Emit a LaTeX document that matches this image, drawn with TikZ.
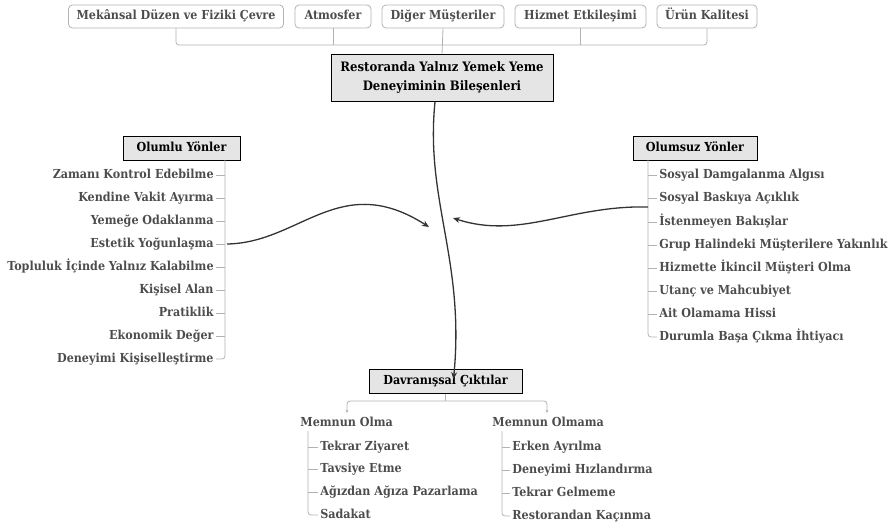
\documentclass[tikz,border=0pt]{standalone}
\usepackage{fontspec}
\setmainfont{DejaVu Serif Condensed}[BoldFont = {DejaVu Serif Condensed Bold}]
\usetikzlibrary{arrows.meta}

\begin{document}
\begin{tikzpicture}[x = 1pt, y = -1pt, line width = 0.8pt,
    font = \bfseries\fontsize{12.4}{15}\selectfont,
    facet/.style = {draw = black!30, rounded corners = 4pt, text = black!70, minimum height = 23pt, inner sep = 2pt, text height = 9pt, text depth = 2.5pt},
    head/.style = {draw = black, fill = black!10, text = black, minimum height = 24pt, inner sep = 2pt, text height = 9pt, text depth = 2.5pt},
    item/.style = {text = black!70, inner sep = 2pt, text height = 9pt, text depth = 2.5pt},
    branch/.style = {draw = black!30, rounded corners = 3pt},
    flow/.style = {draw = black!80, line width = 1.3pt, -{Stealth[length = 7pt, width = 6pt]}}]
    \useasboundingbox (0, 0) rectangle (891, 530);

    % components on top
    \node [facet, minimum width = 215pt] (space) at (176, 16.5){Mekânsal Düzen ve Fiziki Çevre};
    \node [facet, minimum width = 76pt] (atmo) at (333, 16.5){Atmosfer};
    \node [facet, minimum width = 122pt] (others) at (443, 16.5){Diğer Müşteriler};
    \node [facet, minimum width = 131pt] (service) at (580.5, 16.5){Hizmet Etkileşimi};
    \node [facet, minimum width = 100pt] (product) at (707, 16.5){Ürün Kalitesi};
    \node [head, align = center, minimum width = 222pt, minimum height = 47pt, text height = {}, text depth = {}, font = \bfseries\fontsize{13}{19}\selectfont] (main) at (442, 78){Restoranda Yalnız Yemek Yeme\\Deneyiminin Bileşenleri};
    \coordinate (bus) at (443, 45);
    \draw [branch] (space.south) |- (bus) -| (product.south);
    \draw [branch] (atmo.south) -- (atmo.south |- bus);
    \draw [branch] (service.south) -- (service.south |- bus);
    \draw [branch] (others.south) -- (main.north);

    % positive side
    \node [head, minimum width = 117pt] (pos) at (181.5, 148){Olumlu Yönler};
    \coordinate (lsp) at (225, 160);
    \node [item, anchor = east] (p1) at (216, 175){Zamanı Kontrol Edebilme};
    \node [item, anchor = east] (p2) at (216, 198){Kendine Vakit Ayırma};
    \node [item, anchor = east] (p3) at (216, 221){Yemeğe Odaklanma};
    \node [item, anchor = east] (p4) at (216, 244){Estetik Yoğunlaşma};
    \node [item, anchor = east] (p5) at (216, 267){Topluluk İçinde Yalnız Kalabilme};
    \node [item, anchor = east] (p6) at (216, 290){Kişisel Alan};
    \node [item, anchor = east] (p7) at (216, 313){Pratiklik};
    \node [item, anchor = east] (p8) at (216, 336){Ekonomik Değer};
    \node [item, anchor = east] (p9) at (216, 359){Deneyimi Kişiselleştirme};
    \draw [branch] (lsp) |- (p9.east);
    \draw [branch] (p1.east) -- (p1.east -| lsp);
    \draw [branch] (p2.east) -- (p2.east -| lsp);
    \draw [branch] (p3.east) -- (p3.east -| lsp);
    \draw [branch] (p4.east) -- (p4.east -| lsp);
    \draw [branch] (p5.east) -- (p5.east -| lsp);
    \draw [branch] (p6.east) -- (p6.east -| lsp);
    \draw [branch] (p7.east) -- (p7.east -| lsp);
    \draw [branch] (p8.east) -- (p8.east -| lsp);

    % negative side
    \node [head, minimum width = 124pt] (neg) at (695, 148){Olumsuz Yönler};
    \coordinate (rsp) at (648, 160);
    \node [item, anchor = west] (n1) at (657, 175){Sosyal Damgalanma Algısı};
    \node [item, anchor = west] (n2) at (657, 198){Sosyal Baskıya Açıklık};
    \node [item, anchor = west] (n3) at (657, 222){İstenmeyen Bakışlar};
    \node [item, anchor = west] (n4) at (657, 245){Grup Halindeki Müşterilere Yakınlık};
    \node [item, anchor = west] (n5) at (657, 268){Hizmette İkincil Müşteri Olma};
    \node [item, anchor = west] (n6) at (657, 291){Utanç ve Mahcubiyet};
    \node [item, anchor = west] (n7) at (657, 314){Ait Olamama Hissi};
    \node [item, anchor = west] (n8) at (657, 337){Durumla Başa Çıkma İhtiyacı};
    \draw [branch] (rsp) |- (n8.west);
    \draw [branch] (n1.west) -- (n1.west -| rsp);
    \draw [branch] (n2.west) -- (n2.west -| rsp);
    \draw [branch] (n3.west) -- (n3.west -| rsp);
    \draw [branch] (n4.west) -- (n4.west -| rsp);
    \draw [branch] (n5.west) -- (n5.west -| rsp);
    \draw [branch] (n6.west) -- (n6.west -| rsp);
    \draw [branch] (n7.west) -- (n7.west -| rsp);

    % outcomes
    \node [head, minimum width = 153pt] (out) at (445.5, 381.5){Davranışsal Çıktılar};
    \node [item, anchor = west] (sat) at (298, 423){Memnun Olma};
    \node [item, anchor = west] (dis) at (490, 423){Memnun Olmama};
    \coordinate (obus) at (445.5, 401);
    \draw [branch] (out.south) -- (obus);
    \draw [branch, -{Stealth[length = 3pt, width = 3pt]}] (obus) -| ([yshift = 2pt]sat.north -| 347, 0);
    \draw [branch, -{Stealth[length = 3pt, width = 3pt]}] (obus) -| ([yshift = 2pt]dis.north -| 547, 0);
    \coordinate (ssp) at (308, 431);
    \node [item, anchor = west] (s1) at (318, 447){Tekrar Ziyaret};
    \node [item, anchor = west] (s2) at (318, 469){Tavsiye Etme};
    \node [item, anchor = west] (s3) at (318, 492){Ağızdan Ağıza Pazarlama};
    \node [item, anchor = west] (s4) at (318, 515){Sadakat};
    \draw [branch] (ssp) |- (s4.west);
    \draw [branch] (s1.west) -- (s1.west -| ssp);
    \draw [branch] (s2.west) -- (s2.west -| ssp);
    \draw [branch] (s3.west) -- (s3.west -| ssp);
    \coordinate (dsp) at (502, 431);
    \node [item, anchor = west] (d1) at (510, 447){Erken Ayrılma};
    \node [item, anchor = west] (d2) at (510, 470){Deneyimi Hızlandırma};
    \node [item, anchor = west] (d3) at (510, 493){Tekrar Gelmeme};
    \node [item, anchor = west] (d4) at (510, 516){Restorandan Kaçınma};
    \draw [branch] (dsp) |- (d4.west);
    \draw [branch] (d1.west) -- (d1.west -| dsp);
    \draw [branch] (d2.west) -- (d2.west -| dsp);
    \draw [branch] (d3.west) -- (d3.west -| dsp);

    % flows
    \coordinate (mid) at (441, 222);
    \draw [flow] ([xshift = -7pt]main.south) .. controls (425, 200) and (465, 260) .. ([xshift = 8pt, yshift = -10pt]out.north);
    \draw [flow] ([xshift = 2pt]p4.east -| lsp) .. controls (300, 243) and (340, 170) .. ([xshift = -12pt, yshift = -5pt]mid);
    \draw [flow] (rsp |- 0, 207) .. controls (570, 205) and (520, 240) .. ([xshift = 12pt, yshift = 4pt]mid);
\end{tikzpicture}
\end{document}
